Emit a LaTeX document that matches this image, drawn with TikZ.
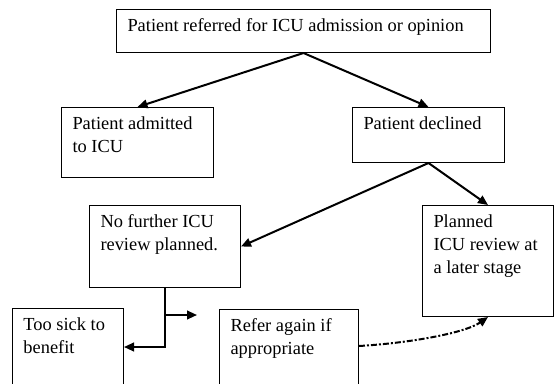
\documentclass[tikz,border=0pt]{standalone}
\usepackage{fontspec}
\setmainfont{Liberation Serif}
\usetikzlibrary{arrows.meta}
\newcommand{\bxt}[3]{\parbox[t][#2][t]{#1}{\raggedright\strut #3}}
\begin{document}
\begin{tikzpicture}[x=0.75pt,y=-0.75pt,
  box/.style={draw, line width=0.75pt, anchor=north west, inner xsep=8.25pt, inner ysep=4.425pt,
    font=\fontsize{13.8pt}{17.25pt}\selectfont},
  arr/.style={line width=1.5pt, -{Triangle[length=7.5pt,width=6.5pt]}},
  dd/.style={arr, dash pattern=on 4.5pt off 1.5pt on 1.5pt off 1.5pt}]
\useasboundingbox (0,0) rectangle (554,383);
\clip (0,0) rectangle (554,383);
\node[box] (top) at (116,9) {\bxt{264pt}{23.4pt}{Patient referred for ICU admission or opinion}};
\node[box] (adm) at (61,107) {\bxt{97.5pt}{43.65pt}{Patient admitted\\to ICU}};
\node[box] (dec) at (352,107) {\bxt{97.5pt}{32.4pt}{Patient declined}};
\node[box] (nof) at (89,205) {\bxt{96.75pt}{52.65pt}{No further ICU\\review planned.}};
\node[box] (pla) at (422,205) {\bxt{81.75pt}{74.4pt}{Planned\\ICU review at\\a later stage}};
\node[box] (too) at (12,308) {\bxt{66.75pt}{60.15pt}{Too sick to\\benefit}};
\node[box] (ref) at (219,309) {\bxt{87.75pt}{59.4pt}{Refer again if\\appropriate}};
\coordinate (tk) at (0,347);
\coordinate (bre) at (197,315);
\draw[arr] (top.south) -- (adm.north);
\draw[arr] (top.south) -- (dec.north);
\draw[arr] (dec.south) -- (nof.east);
\draw[arr] (dec.south) -- (pla.north);
\draw[arr] (nof.south) |- (tk -| too.east);
\draw[arr] (nof.south |- bre) -- (bre);
\draw[dd] (ref.north east) ++(0,37) .. controls (410,343) and (465,333) .. (pla.south);
\end{tikzpicture}
\end{document}
